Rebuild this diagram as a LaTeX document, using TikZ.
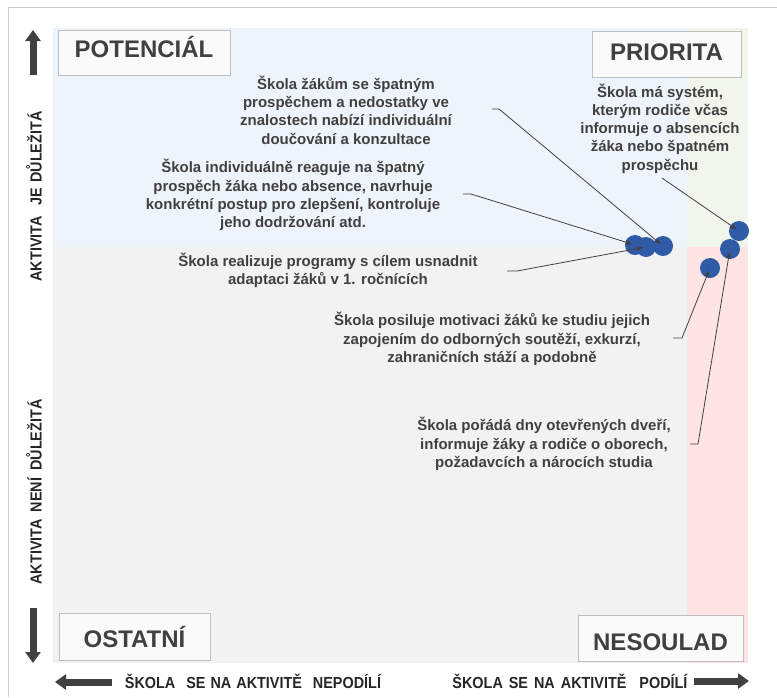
\documentclass[tikz,border=0pt]{standalone}
\usepackage{fontspec}
\setmainfont{Liberation Sans}
\newfontfamily\narrowfont[FakeStretch=0.9]{Liberation Sans}
\usepackage{xcolor}
\usetikzlibrary{arrows, arrows.meta, positioning}

\definecolor{potfill}{RGB}{238,244,251}
\definecolor{prifill}{RGB}{240,246,236}
\definecolor{ostfill}{RGB}{242,242,242}
\definecolor{nesfill}{RGB}{255,228,228}
\definecolor{boxfill}{RGB}{250,250,250}
\definecolor{boxgray}{RGB}{190,190,190}
\definecolor{framegray}{RGB}{205,205,205}
\definecolor{textgray}{RGB}{64,64,64}
\definecolor{dotblue}{RGB}{47,90,166}

\begin{document}
\begin{tikzpicture}[
    x=1pt, y=-1pt,
    quadbox/.style={rectangle, draw=boxgray, fill=boxfill, line width=0.8pt, text=textgray, font=\bfseries\fontsize{24}{28}\selectfont, inner sep=0pt},
    note/.style={align=center, text=textgray, font=\bfseries\fontsize{15}{18.3}\selectfont, inner sep=0pt},
    axislabel/.style={text=black!85, font=\narrowfont\bfseries\fontsize{16}{18}\selectfont, inner sep=0pt},
    bubble/.style={circle, fill=dotblue, minimum size=20pt, inner sep=0pt},
    leader/.style={->, >={Stealth[length=7pt,width=5pt]}, draw=textgray, line width=0.8pt, shorten >=3pt},
    bigarrow/.style={-{Triangle[length=11pt,width=15pt]}, line width=7pt, draw=textgray}
]
\useasboundingbox (0,0) rectangle (777,697);

% frame and quadrants
\draw[framegray, line width=1pt] (8,697) -- (8,7) -- (777,7);
\fill[potfill] (53,28) rectangle (687,247);
\fill[prifill] (687,28) rectangle (748,247);
\fill[ostfill] (53,247) rectangle (687,663);
\fill[nesfill] (687,247) rectangle (748,663);

\node[quadbox, minimum width=172pt, minimum height=45pt, text height=17pt, text depth=8pt] (potencial) at (144,52.5) {POTENCIÁL};
\node[quadbox, minimum width=149pt, minimum height=46pt, text height=17pt, text depth=4pt] (priorita) at (666.5,54) {PRIORITA};
\node[quadbox, minimum width=151pt, minimum height=47pt, text height=22pt, text depth=0pt] (ostatni) at (134.5,636.5) {OSTATNÍ\hspace{17pt}};
\node[quadbox, minimum width=165pt, minimum height=46pt, text height=25pt, text depth=0pt] (nesoulad) at (660.5,638) {NESOULAD};

% activities
\node[note] (zakum) at (346,110) {Škola žákům se špatným\\prospěchem a nedostatky ve\\znalostech nabízí individuální\\doučování a konzultace};
\node[note] (reaguje) at (293,195) {Škola individuálně reaguje na špatný\\prospěch žáka nebo absence, navrhuje\\konkrétní postup pro zlepšení, kontroluje\\jeho dodržování atd.};
\node[note] (system) at (660,128.5) {Škola má systém,\\kterým rodiče včas\\informuje o absencích\\žáka nebo špatném\\prospěchu};
\node[note] (adaptace) at (328,270.5) {Škola realizuje programy s cílem usnadnit\\adaptaci žáků v 1. ročnících};
\node[note] (motivace) at (492,339) {Škola posiluje motivaci žáků ke studiu jejich\\zapojením do odborných soutěží, exkurzí,\\zahraničních stáží a podobně};
\node[note] (dvere) at (544,444) {Škola pořádá dny otevřených dveří,\\informuje žáky a rodiče o oborech,\\požadavcích a nárocích studia};

\node[bubble] (dota) at (635,245) {};
\node[bubble] (dotb) at (646,247) {};
\node[bubble] (dotc) at (663,246) {};
\node[bubble] (dotd) at (739,231) {};
\node[bubble] (dote) at (730,249) {};
\node[bubble] (dotf) at (710,268) {};

\coordinate (zakumend) at (492,109);
\coordinate (reagujeend) at (463,194);
\coordinate (adaptaceend) at (507,271);
\coordinate (systemend) at (662,178);
\coordinate (motivaceend) at (673,338);
\coordinate (dvereend) at (690,444);

\draw[leader] (zakumend) -- ++(7,0) -- (dotc.center);
\draw[leader] (reagujeend) -- ++(8,0) -- (dota.center);
\draw[leader] (adaptaceend) -- ++(10,0) -- (dotb.center);
\draw[leader] (systemend) -- (dotd.center);
\draw[leader] (motivaceend) -- ++(9,0) -- (dotf.center);
\draw[leader] (dvereend) -- ++(8,0) -- (dote.center);

% axes
\coordinate (upfoot) at (33,75);
\coordinate (uptip) at (33,30);
\coordinate (downfoot) at (33,608);
\coordinate (downtip) at (33,663);
\coordinate (leftfoot) at (112,682);
\coordinate (lefttip) at (55,682);
\coordinate (rightfoot) at (694,681);
\coordinate (righttip) at (749,681);
\draw[bigarrow] (upfoot) -- (uptip);
\draw[bigarrow] (downfoot) -- (downtip);
\draw[bigarrow] (leftfoot) -- (lefttip);
\draw[bigarrow] (rightfoot) -- (righttip);

\node[axislabel, rotate=90] (dulezita) at (34,196.5) {AKTIVITA\hspace{11pt}JE\hspace{5pt}DŮLEŽITÁ};
\node[axislabel, rotate=90] (nedulezita) at (34,492) {AKTIVITA\hspace{7pt}NENÍ\hspace{7pt}DŮLEŽITÁ};
\node[axislabel] (nepodili) at (253,681) {ŠKOLA\hspace{11pt}SE\hspace{5pt}NA\hspace{5pt}AKTIVITĚ\hspace{11pt}NEPODÍLÍ};
\node[axislabel] (podili) at (570,681) {ŠKOLA\hspace{6pt}SE\hspace{6pt}NA\hspace{6pt}AKTIVITĚ\hspace{13pt}PODÍLÍ};

\end{tikzpicture}
\end{document}
